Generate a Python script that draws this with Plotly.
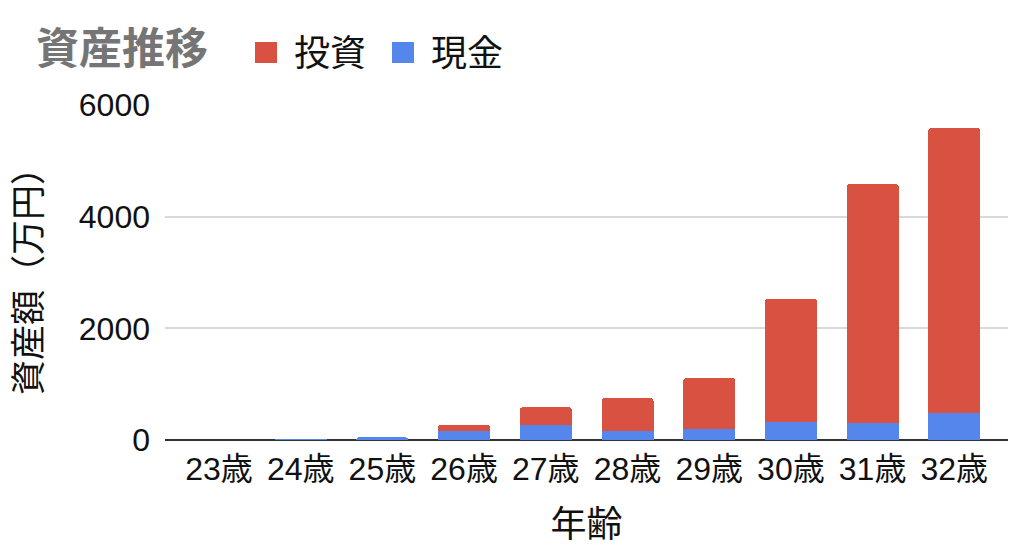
import plotly.graph_objects as go

ages = ["23歳", "24歳", "25歳", "26歳", "27歳", "28歳", "29歳", "30歳", "31歳", "32歳"]
cash = [0, 15, 45, 170, 270, 170, 200, 330, 300, 490]
invest = [0, 0, 0, 100, 315, 580, 905, 2195, 4285, 5095]
yticks = [0, 2000, 4000, 6000]

RED = "#D95140"
BLUE = "#5486EC"
TXT = "#111111"
FONT = "Liberation Sans, Arial, Noto Sans CJK JP"
CJK = "Noto Sans CJK JP, Liberation Sans"

W, H = 1018, 558
L, R, T, B = 165, 10, 105, 118
pw, ph = W - L - R, H - T - B

def px(x):
    return (x - L) / pw

def py(y):
    return (H - B - y) / ph

fig = go.Figure()
fig.add_trace(go.Bar(x=ages, y=cash, name="現金", marker=dict(color=BLUE, line_width=0),
                     showlegend=False))
fig.add_trace(go.Bar(x=ages, y=invest, name="投資", marker=dict(color=RED, line_width=0, cornerradius=3),
                     showlegend=False))

fig.update_layout(
    width=W, height=H,
    margin=dict(l=L, r=R, t=T, b=B, autoexpand=False),
    barmode="stack",
    bargap=0.364,
    plot_bgcolor="white", paper_bgcolor="white",
    font=dict(family=FONT, size=32, color=TXT),
    title=dict(text="<b>資産推移</b>", font=dict(family=CJK, size=43, color="#757575"),
               xref="container", yref="container", x=36 / W, xanchor="left",
               y=1 - 49 / H, yanchor="middle"),
    xaxis=dict(type="category", range=[-0.661, 9.657], showgrid=False,
               showline=False, ticks="", ticklabelstandoff=7,
               tickfont=dict(family=FONT, size=32, color=TXT),
               title=dict(text="年齢", font=dict(family=CJK, size=36, color=TXT), standoff=25),
               automargin=False),
    yaxis=dict(range=[0, 6000], tickvals=yticks, ticktext=[str(v) for v in yticks],
               showgrid=True, gridcolor="#D9D9D9", gridwidth=1.5,
               zeroline=True, zerolinecolor="#333333", zerolinewidth=1.5,
               showline=False, ticks="", ticklabelstandoff=14,
               tickfont=dict(family=FONT, size=32, color=TXT),
               title=dict(text="資産額（万円）", font=dict(family=CJK, size=35, color=TXT), standoff=26),
               automargin=False),
)

# legend (drawn manually to match the reference's larger swatches)
legend_items = [("投資", RED, 255, 292), ("現金", BLUE, 392, 429)]
for label, color, sx, tx in legend_items:
    fig.add_shape(type="rect", xref="paper", yref="paper",
                  x0=px(sx), x1=px(sx + 22), y0=py(63), y1=py(42),
                  fillcolor=color, line_width=0)
    fig.add_annotation(text=label, xref="paper", yref="paper", x=px(tx), y=py(50),
                       xanchor="left", yanchor="middle", showarrow=False,
                       font=dict(family=CJK, size=36, color=TXT))

fig.write_html("out.html", config={"displayModeBar": False},
               post_script="document.body.style.margin='0';document.body.style.padding='0';")
